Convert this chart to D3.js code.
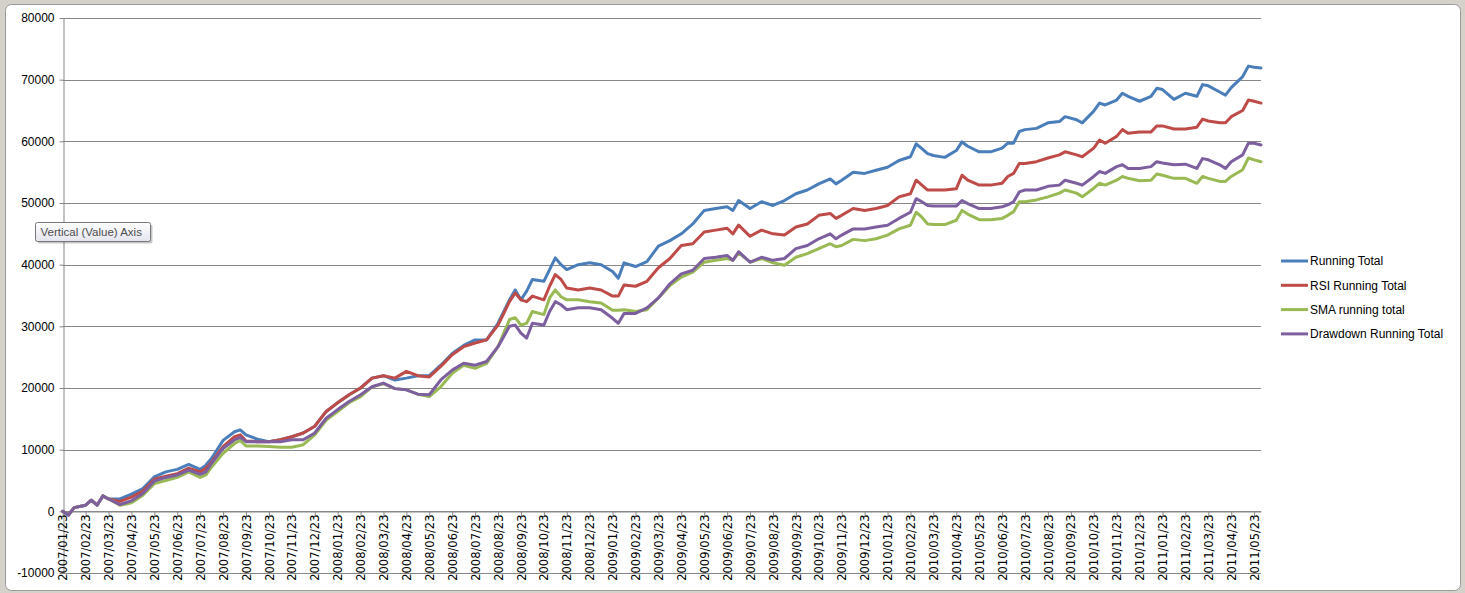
<!DOCTYPE html>
<html>
<head>
<meta charset="utf-8">
<script src="https://cdn.jsdelivr.net/npm/d3@7"></script>
<style>
  body { margin: 0; background: #d4d1ca; }
  svg { display: block; }
</style>
</head>
<body>
<svg id="chart" width="1465" height="593"></svg>
<script>
// month labels on the category axis
const months = [
    '2007/01/23', '2007/02/23', '2007/03/23', '2007/04/23', '2007/05/23', '2007/06/23',
    '2007/07/23', '2007/08/23', '2007/09/23', '2007/10/23', '2007/11/23', '2007/12/23',
    '2008/01/23', '2008/02/23', '2008/03/23', '2008/04/23', '2008/05/23', '2008/06/23',
    '2008/07/23', '2008/08/23', '2008/09/23', '2008/10/23', '2008/11/23', '2008/12/23',
    '2009/01/23', '2009/02/23', '2009/03/23', '2009/04/23', '2009/05/23', '2009/06/23',
    '2009/07/23', '2009/08/23', '2009/09/23', '2009/10/23', '2009/11/23', '2009/12/23',
    '2010/01/23', '2010/02/23', '2010/03/23', '2010/04/23', '2010/05/23', '2010/06/23',
    '2010/07/23', '2010/08/23', '2010/09/23', '2010/10/23', '2010/11/23', '2010/12/23',
    '2011/01/23', '2011/02/23', '2011/03/23', '2011/04/23', '2011/05/23'
]

const yTicks = [-10000, 0, 10000, 20000, 30000, 40000, 50000, 60000, 70000, 80000]

// sample positions, in months after 2007/01/23
const steps = [
    0, 0.25, 0.5, 1, 1.25, 1.5, 1.75, 2, 2.5, 3,
    3.5, 4, 4.5, 5, 5.5, 6, 6.25, 6.5, 7, 7.5,
    7.75, 8, 8.5, 9, 9.5, 10, 10.5, 11, 11.5, 12,
    12.5, 13, 13.5, 14, 14.5, 15, 15.5, 16, 16.5, 17,
    17.5, 18, 18.5, 19, 19.5, 19.75, 20, 20.25, 20.5, 21,
    21.25, 21.5, 21.75, 22, 22.5, 23, 23.5, 24, 24.25, 24.5,
    25, 25.5, 26, 26.5, 27, 27.5, 28, 28.5, 29, 29.25,
    29.5, 30, 30.5, 31, 31.5, 32, 32.5, 33, 33.5, 33.75,
    34, 34.5, 35, 35.5, 36, 36.5, 37, 37.25, 37.5, 37.75,
    38, 38.5, 39, 39.25, 39.5, 40, 40.5, 41, 41.25, 41.5,
    41.75, 42, 42.5, 43, 43.5, 43.75, 44.25, 44.5, 45, 45.25,
    45.5, 46, 46.25, 46.5, 47, 47.5, 47.75, 48, 48.5, 49,
    49.5, 49.75, 50, 50.5, 50.75, 51, 51.5, 51.75, 52, 52.3
]

const runningTotal = [
    0, -600, 600, 1000, 1800, 1000, 2500, 2000, 2000, 2800,
    3700, 5600, 6400, 6800, 7600, 6800, 7500, 8600, 11500, 12900,
    13200, 12400, 11700, 11300, 11600, 12100, 12700, 13800, 16200, 17600,
    18900, 20000, 21600, 22000, 21300, 21600, 22000, 22000, 23700, 25600,
    26900, 27800, 27800, 30500, 34300, 35900, 34300, 35700, 37600, 37300,
    39200, 41100, 40000, 39200, 40000, 40300, 40000, 38900, 37800, 40300,
    39700, 40500, 43000, 43900, 45000, 46600, 48800, 49100, 49400, 48800,
    50400, 49100, 50200, 49600, 50400, 51500, 52100, 53100, 53900, 53100,
    53700, 55000, 54800, 55300, 55800, 56900, 57500, 59600, 58800, 58000,
    57700, 57400, 58500, 59900, 59200, 58300, 58300, 58900, 59700, 59700,
    61600, 61900, 62100, 63000, 63200, 64000, 63500, 63000, 64900, 66200,
    65900, 66700, 67800, 67300, 66500, 67300, 68600, 68400, 66800, 67800,
    67300, 69200, 69000, 68000, 67500, 68700, 70500, 72200, 72000, 71900
]

const rsiRunningTotal = [
    0, -600, 600, 1000, 1800, 1000, 2500, 2000, 1600, 2300,
    3300, 5200, 5700, 6100, 7000, 6400, 7000, 8000, 10500, 12100,
    12400, 11400, 11300, 11300, 11600, 12100, 12700, 13800, 16200, 17600,
    18900, 20000, 21600, 22000, 21600, 22700, 22000, 21800, 23500, 25400,
    26700, 27300, 27800, 30200, 34000, 35400, 34300, 34000, 34900, 34300,
    36500, 38400, 37600, 36200, 35900, 36200, 35900, 34900, 34900, 36700,
    36500, 37300, 39500, 41000, 43100, 43400, 45300, 45600, 45900, 45000,
    46400, 44600, 45600, 45000, 44800, 46100, 46600, 48000, 48300, 47500,
    48000, 49100, 48800, 49100, 49600, 51000, 51500, 53700, 52900, 52100,
    52100, 52100, 52300, 54500, 53700, 52900, 52900, 53200, 54300, 54800,
    56400, 56400, 56700, 57300, 57800, 58300, 57800, 57500, 58900, 60200,
    59700, 60800, 61900, 61300, 61500, 61500, 62500, 62500, 62000, 62000,
    62300, 63600, 63300, 63000, 63000, 64000, 65000, 66700, 66500, 66200
]

const smaRunningTotal = [
    0, -600, 600, 1000, 1800, 1000, 2500, 2000, 1000, 1400,
    2600, 4500, 5000, 5500, 6400, 5500, 5900, 7200, 9400, 11000,
    11500, 10600, 10600, 10500, 10400, 10400, 10800, 12400, 14800, 16200,
    17600, 18600, 20200, 20700, 19900, 19700, 19000, 18600, 20200, 22400,
    23700, 23200, 24000, 26700, 31100, 31400, 30200, 30500, 32400, 31900,
    34600, 35900, 34800, 34300, 34300, 34000, 33800, 32600, 32600, 32700,
    32400, 32700, 34600, 36600, 38000, 38800, 40400, 40700, 41000, 40700,
    41900, 40400, 41000, 40300, 39900, 41200, 41800, 42600, 43400, 42900,
    43100, 44100, 43900, 44200, 44800, 45800, 46400, 48500, 47700, 46600,
    46500, 46500, 47200, 48800, 48200, 47300, 47300, 47500, 48000, 48600,
    50200, 50200, 50500, 51000, 51600, 52100, 51600, 51000, 52400, 53200,
    52900, 53700, 54300, 54000, 53600, 53700, 54700, 54500, 54000, 54000,
    53200, 54300, 54000, 53500, 53500, 54300, 55400, 57300, 57000, 56700
]

const drawdownRunningTotal = [
    0, -600, 600, 1000, 1800, 1000, 2500, 2000, 1100, 1700,
    2900, 4900, 5500, 5900, 6700, 6000, 6400, 7800, 10200, 11600,
    12000, 11300, 11300, 11300, 11300, 11600, 11600, 12700, 15100, 16500,
    17800, 18900, 20200, 20800, 19900, 19700, 19000, 18900, 21300, 22900,
    24000, 23700, 24300, 26700, 30000, 30200, 28900, 28100, 30500, 30200,
    32400, 34000, 33500, 32700, 33000, 33000, 32700, 31300, 30500, 32100,
    32100, 33000, 34600, 36900, 38500, 39100, 41000, 41200, 41500, 40700,
    42100, 40400, 41200, 40700, 41000, 42600, 43100, 44200, 45000, 44200,
    44800, 45800, 45800, 46100, 46400, 47500, 48500, 50700, 50200, 49600,
    49500, 49500, 49500, 50400, 49900, 49100, 49100, 49400, 49700, 50200,
    51800, 52100, 52100, 52700, 52900, 53700, 53200, 52900, 54300, 55100,
    54800, 55900, 56200, 55600, 55600, 55900, 56700, 56500, 56200, 56300,
    55600, 57200, 57000, 56200, 55600, 56700, 57800, 59700, 59700, 59400
]

const seriesNames = ['Running Total', 'RSI Running Total', 'SMA running total', 'Drawdown Running Total']
const seriesColors = ['#4a7ebb', '#be4b48', '#98b954', '#7d5fa0']

function buildSeries() {
    const all = [runningTotal, rsiRunningTotal, smaRunningTotal, drawdownRunningTotal]
    return all.map((values, i) => ({
        name: seriesNames[i],
        color: seriesColors[i],
        points: steps.map((m, j) => ({ m, v: values[j] }))
    }))
}

function drawFrame(svg) {
    svg.append('rect')
        .attr('x', 5.5).attr('y', 4.5)
        .attr('width', 1455).attr('height', 586)
        .attr('rx', 6)
        .attr('fill', '#ffffff')
        .attr('stroke', '#9a9a9a')
}

function drawAxes(svg, x, y) {
    const grid = svg.append('g')
    grid.selectAll('line')
        .data(yTicks)
        .enter()
        .append('line')
        .attr('x1', x.range()[0]).attr('x2', x.range()[1])
        .attr('y1', d => Math.round(y(d)) + 0.5).attr('y2', d => Math.round(y(d)) + 0.5)
        .attr('stroke', '#878787')

    const yAxis = svg.append('g')
        .attr('transform', `translate(${Math.round(x.range()[0]) + 0.5},0)`)
        .call(d3.axisLeft(y).tickValues(yTicks).tickSize(4).tickSizeOuter(0).tickFormat(d => String(d)))
    yAxis.selectAll('path, line').attr('stroke', '#878787')
    yAxis.selectAll('text')
        .attr('x', -9)
        .attr('fill', '#000')
        .style('font', '12px "Liberation Sans", Arial, sans-serif')

    const xAxis = svg.append('g')
        .attr('transform', `translate(0,${Math.round(y(0)) + 0.5})`)
        .call(d3.axisBottom(x).tickValues(d3.range(months.length)).tickSize(5).tickSizeOuter(0).tickFormat(i => months[i]))
    xAxis.selectAll('path, line').attr('stroke', '#878787')
    xAxis.selectAll('text')
        .attr('transform', 'rotate(-90)')
        .attr('x', -3)
        .attr('y', 0)
        .attr('dy', '0.36em')
        .attr('text-anchor', 'end')
        .attr('fill', '#000')
        .style('font', '11.5px "DejaVu Sans", sans-serif')
}

function drawLines(svg, series, x, y) {
    const line = d3.line()
        .x(d => x(d.m))
        .y(d => y(d.v))

    svg.append('g')
        .selectAll('path')
        .data(series)
        .enter()
        .append('path')
        .attr('d', d => line(d.points))
        .attr('fill', 'none')
        .attr('stroke', d => d.color)
        .attr('stroke-width', 3)
        .attr('stroke-linejoin', 'round')
        .attr('stroke-linecap', 'round')
}

function drawLegend(svg, series) {
    const legend = svg.append('g')
        .selectAll('g')
        .data(series)
        .enter()
        .append('g')
        .attr('transform', (d, i) => `translate(1281,${261 + i * 24.3})`)

    legend.append('line')
        .attr('x1', 0).attr('x2', 27)
        .attr('stroke', d => d.color)
        .attr('stroke-width', 3)

    legend.append('text')
        .attr('x', 29)
        .attr('dy', '0.36em')
        .attr('fill', '#000')
        .style('font', '12px "Liberation Sans", Arial, sans-serif')
        .text(d => d.name)
}

function drawTooltip(svg) {
    const defs = svg.append('defs')
    const grad = defs.append('linearGradient')
        .attr('id', 'tip').attr('x1', 0).attr('x2', 0).attr('y1', 0).attr('y2', 1)
    grad.append('stop').attr('offset', 0).attr('stop-color', '#ffffff')
    grad.append('stop').attr('offset', 1).attr('stop-color', '#e3e4ee')

    const tip = svg.append('g').attr('transform', 'translate(35.5,222.5)')
    tip.append('rect')
        .attr('x', 2).attr('y', 2).attr('width', 115).attr('height', 19).attr('rx', 2)
        .attr('fill', 'rgba(0,0,0,0.22)')
    tip.append('rect')
        .attr('width', 115).attr('height', 19).attr('rx', 2)
        .attr('fill', 'url(#tip)')
        .attr('stroke', '#777')
    tip.append('text')
        .attr('x', 5).attr('y', 13.5)
        .attr('fill', '#4d4d4d')
        .style('font', '11.5px "Liberation Sans", Arial, sans-serif')
        .text('Vertical (Value) Axis')
}

function main() {
    const svg = d3.select('#chart')
    const x = d3.scaleLinear().domain([0, 52.3]).range([62.7, 1261])
    const y = d3.scaleLinear().domain([-10000, 80000]).range([573, 18])
    const series = buildSeries()

    drawFrame(svg)
    drawAxes(svg, x, y)
    drawLines(svg, series, x, y)
    drawLegend(svg, series)
    drawTooltip(svg)
}

main()
</script>
</body>
</html>
